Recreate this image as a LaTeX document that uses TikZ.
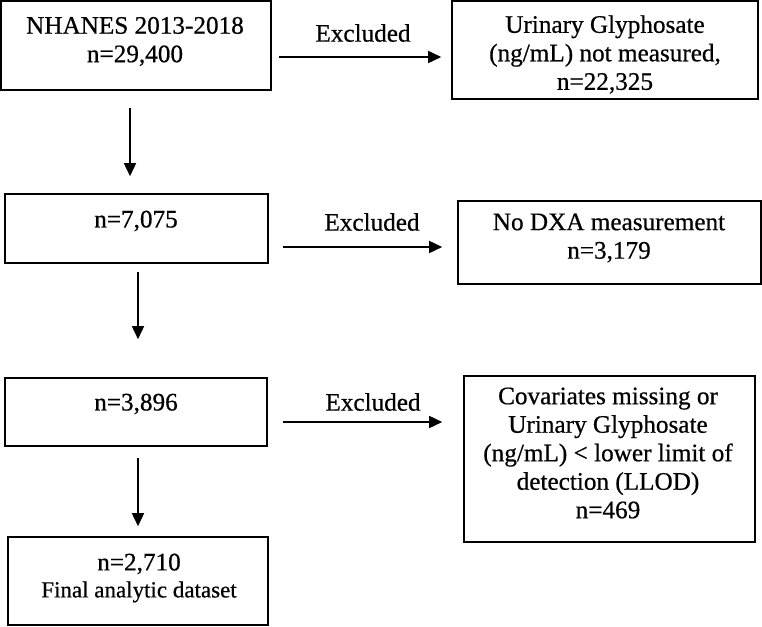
\documentclass[tikz,border=0pt]{standalone}
\usepackage{fontspec}
\setmainfont{Liberation Serif}[FakeBold=0.6]
\usetikzlibrary{arrows.meta,calc}
\begin{document}
\begin{tikzpicture}[x=1pt,y=-1pt,
  box/.style={draw,line width=1.6pt,inner sep=0pt,minimum width=#1},
  lbl/.style={align=center,inner sep=0pt,font=\fontsize{25.2}{28.5}\selectfont},
  arr/.style={line width=1.6pt,-{Triangle[length=13pt,width=12pt]}}]
\useasboundingbox (0,0) rectangle (762,626);
% boxes
\node[box=270,minimum height=89] (b1) at (136,45.5) {};
\node[box=306,minimum height=98] (b2) at (605,50) {};
\node[box=263,minimum height=69] (b3) at (136.5,228.5) {};
\node[box=303,minimum height=83] (b4) at (609.5,242.5) {};
\node[box=262,minimum height=68] (b5) at (136,412) {};
\node[box=291,minimum height=166] (b6) at (609.5,459) {};
\node[box=260,minimum height=88] (b7) at (138,581) {};
% texts
\node[lbl] (t1) at (135,41.5) {NHANES 2013-2018\\n=29,400};
\node[lbl] (t2) at (605,54.5) {Urinary Glyphosate\\(ng/mL) not measured,\\n=22,325};
\node[lbl] (t3) at (136,221) {n=7,075};
\node[lbl] (t4) at (609,238) {No DXA measurement\\n=3,179};
\node[lbl] (t5) at (136,404) {n=3,896};
\node[lbl] (t6) at (608,453) {Covariates missing or\\Urinary Glyphosate\\(ng/mL) {<} lower limit of\\detection (LLOD)\\n=469};
\node[lbl,font=\fontsize{25.2}{27}\selectfont] (t7) at (139,578) {n=2,710\\\fontsize{23}{27}\selectfont Final analytic dataset};
\node[lbl] (e1) at (363,33) {Excluded};
\node[lbl] (e2) at (372,222) {Excluded};
\node[lbl] (e3) at (373,402) {Excluded};
% horizontal arrows
\draw[arr,shorten <=7pt,shorten >=10pt] (b1.east |- 0,57) -- (b2.west |- 0,57);
\draw[arr,shorten <=14pt,shorten >=15pt] (b3.east |- 0,247) -- (b4.west |- 0,247);
\draw[arr,shorten <=15pt,shorten >=21pt] (b5.east |- 0,422) -- (b6.west |- 0,422);
% vertical arrows
\draw[arr,shorten <=17pt,shorten >=17pt] (b1.south -| 130,0) -- (b3.north -| 130,0);
\draw[arr,shorten <=8pt,shorten >=38pt] (b3.south -| 138,0) -- (b5.north -| 138,0);
\draw[arr,shorten <=11pt,shorten >=10pt] (b5.south -| 138,0) -- (b7.north -| 138,0);
\end{tikzpicture}
\end{document}
